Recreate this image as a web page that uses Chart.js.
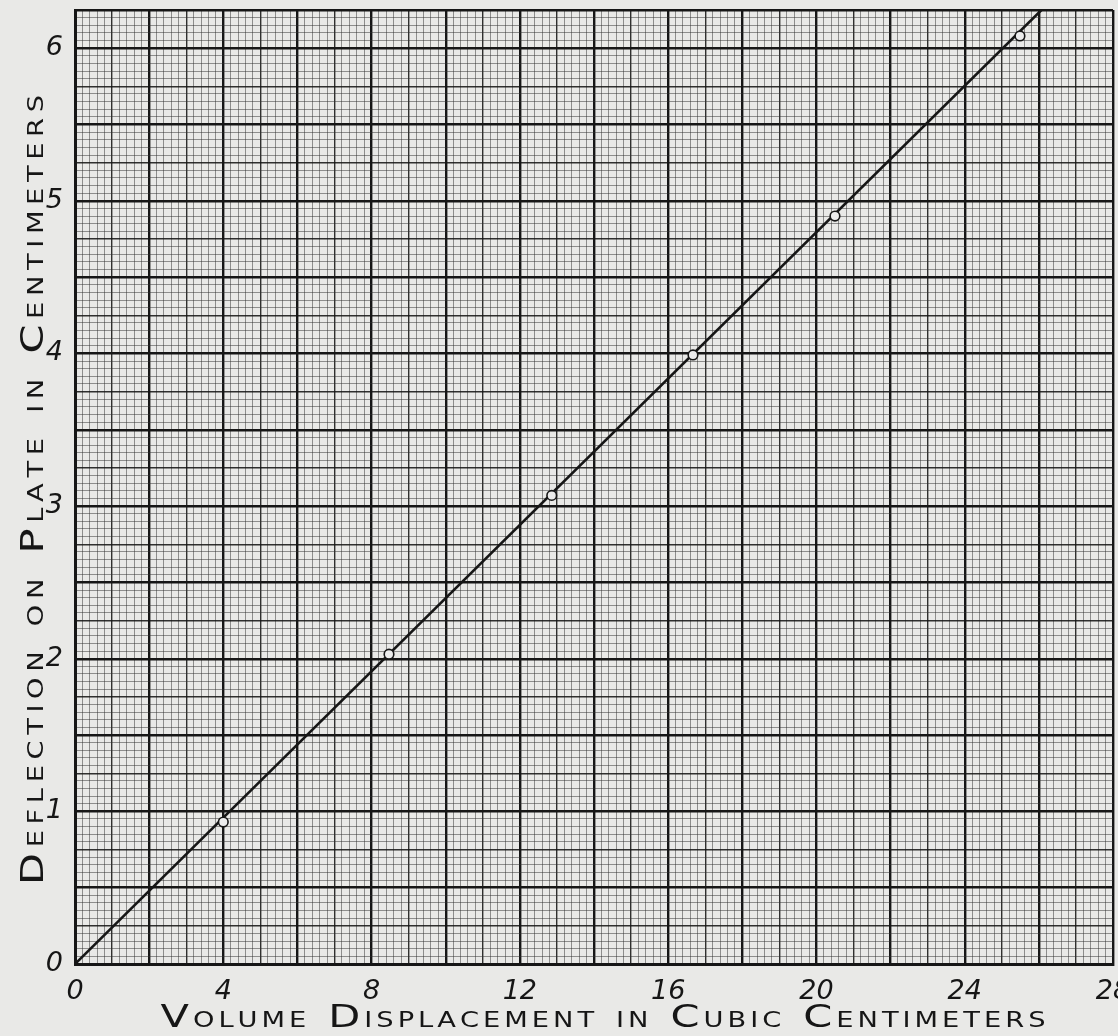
<!DOCTYPE html>
<html><head><meta charset="utf-8">
<script src="https://cdn.jsdelivr.net/npm/chart.js@4"></script>
<style>
html,body{margin:0;padding:0;background:#e9e9e7;overflow:hidden}
#wrap{width:1118px;height:1036px;position:relative}
</style>
</head><body><div id="wrap"><canvas id="c" width="1118" height="1036"></canvas></div>
<script>
// ---- data ----
const volumeCC      = [4.0, 8.47, 12.86, 16.67, 20.5, 25.49];
const deflectionCM  = [0.93, 2.03, 3.07, 3.99, 4.90, 6.08];
const fitLineX      = [0, 26.07];
const fitLineY      = [0, 6.25];
const xTickLabels   = [0, 4, 8, 12, 16, 20, 24, 28];
const yTickLabels   = [0, 1, 2, 3, 4, 5, 6];
const xTitle = 'Volume Displacement in Cubic Centimeters';
const yTitle = 'Deflection on Plate in Centimeters';

const X_MIN = 0, X_MAX = 28, Y_MIN = 0, Y_MAX = 6.25;
const INK = '#161616';
const near = (a, b) => Math.abs(a - b) < 1e-6;
const isMult = (v, m) => near(v / m, Math.round(v / m));

function xGridWidth(v) {
  if (isMult(v, 2)) return 2.4;
  if (isMult(v, 1)) return 1.4;
  return 1;
}
function xGridColor(v) {
  if (isMult(v, 2)) return INK;
  if (isMult(v, 1)) return 'rgba(22,22,22,0.88)';
  return 'rgba(50,50,50,0.5)';
}
function yGridWidth(v) {
  if (near(v, Y_MAX) || isMult(v, 0.5)) return 2.4;
  if (isMult(v, 0.25)) return 1.4;
  return 1;
}
function yGridColor(v) {
  if (near(v, Y_MAX) || isMult(v, 0.5)) return INK;
  if (isMult(v, 0.25)) return 'rgba(22,22,22,0.88)';
  return 'rgba(50,50,50,0.5)';
}

// hand-lettered small caps: capital letters large, the rest small capitals
function drawSmallCaps(ctx, text, bigPx, smallPx, family, targetWidth, sx, wordGap) {
  const pieces = [...text].map(ch => {
    if (ch === ' ') return { space: true, w: wordGap };
    const big = ch !== ch.toLowerCase();
    ctx.font = (big ? bigPx : smallPx) + 'px ' + family;
    const c = ch.toUpperCase();
    return { c, font: ctx.font, w: ctx.measureText(c).width * sx };
  });
  const natural = pieces.reduce((s, p) => s + p.w, 0);
  const gap = (targetWidth - natural) / (pieces.length - 1);
  let x = -targetWidth / 2;
  for (const p of pieces) {
    if (!p.space) {
      ctx.save();
      ctx.translate(x, 0);
      ctx.scale(sx, 1);
      ctx.font = p.font;
      ctx.fillText(p.c, 0, 0);
      ctx.restore();
    }
    x += p.w + gap;
  }
}

const titlePlugin = {
  id: 'handTitles',
  afterDraw(chart) {
    const ctx = chart.ctx;
    ctx.save();
    ctx.fillStyle = INK;
    ctx.textBaseline = 'alphabetic';
    ctx.textAlign = 'left';
    ctx.save();
    ctx.translate(603, 1027);
    drawSmallCaps(ctx, xTitle, 32, 21, '"DejaVu Sans", sans-serif', 885, 1.3, 14);
    ctx.restore();
    ctx.save();
    ctx.translate(43, 490);
    ctx.rotate(-Math.PI / 2);
    drawSmallCaps(ctx, yTitle, 32, 21, '"DejaVu Sans", sans-serif', 790, 1.3, 14);
    ctx.restore();
    ctx.restore();
  }
};

const tickFont = { family: '"DejaVu Sans", sans-serif', size: 27, style: 'italic' };

new Chart(document.getElementById('c'), {
  type: 'scatter',
  data: {
    datasets: [
      {
        label: 'Fitted line',
        data: fitLineX.map((x, i) => ({ x, y: fitLineY[i] })),
        showLine: true,
        borderColor: INK,
        borderWidth: 2.6,
        pointRadius: 0,
        fill: false,
        order: 2
      },
      {
        label: 'Measured',
        data: volumeCC.map((x, i) => ({ x, y: deflectionCM[i] })),
        showLine: false,
        pointRadius: 4.8,
        pointBorderWidth: 1.6,
        pointBorderColor: INK,
        pointBackgroundColor: '#ececec',
        order: 1
      }
    ]
  },
  options: {
    responsive: false,
    animation: false,
    devicePixelRatio: 1,
    layout: { autoPadding: false, padding: { left: 0, top: 10, right: 5, bottom: 0 } },
    plugins: { legend: { display: false }, tooltip: { enabled: false }, title: { display: false } },
    scales: {
      x: {
        type: 'linear',
        min: X_MIN, max: X_MAX,
        afterFit(scale) {
          scale.height = 72;
          scale.paddingLeft = 0; scale.paddingRight = 0;
          scale.paddingTop = 0; scale.paddingBottom = 0;
        },
        border: { display: true, color: INK, width: 3 },
        grid: {
          drawTicks: false,
          lineWidth: c => xGridWidth(c.tick.value),
          color: c => xGridColor(c.tick.value)
        },
        ticks: {
          stepSize: 0.2,
          autoSkip: false,
          maxRotation: 0,
          padding: 12,
          color: INK,
          font: tickFont,
          callback: v => xTickLabels.some(t => near(t, v)) ? String(Math.round(v)) : ''
        }
      },
      y: {
        type: 'linear',
        min: Y_MIN, max: Y_MAX,
        afterFit(scale) {
          scale.width = 75;
          scale.paddingLeft = 0; scale.paddingRight = 0;
          scale.paddingTop = 0; scale.paddingBottom = 0;
        },
        border: { display: true, color: INK, width: 3 },
        grid: {
          drawTicks: false,
          lineWidth: c => yGridWidth(c.tick.value),
          color: c => yGridColor(c.tick.value)
        },
        ticks: {
          stepSize: 0.05,
          autoSkip: false,
          padding: 12,
          color: INK,
          font: tickFont,
          callback: v => yTickLabels.some(t => near(t, v)) ? String(Math.round(v)) : ''
        }
      }
    }
  },
  plugins: [titlePlugin]
});
</script>
</body></html>
